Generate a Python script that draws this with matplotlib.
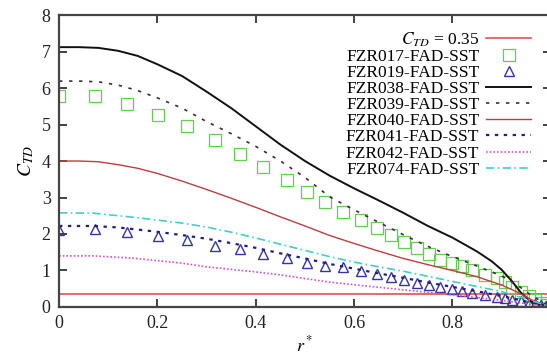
import matplotlib

matplotlib.use("Agg")
import matplotlib.pyplot as plt

plt.rcParams["font.family"] = ["Liberation Serif", "DejaVu Serif"]
plt.rcParams["mathtext.fontset"] = "stix"

# reference line
ctd_const = 0.35

# markers (FZR017 squares, FZR019 triangles) share the radial stations
r_pts = [0.0, 0.073, 0.138, 0.201, 0.26, 0.317, 0.368, 0.415, 0.463, 0.504, 0.541,
         0.577, 0.614, 0.646, 0.675, 0.701, 0.728, 0.752, 0.774, 0.799, 0.819,
         0.839, 0.866, 0.89, 0.907, 0.922, 0.94, 0.955, 0.968, 0.98, 0.99, 1.0]
fzr017 = [5.78, 5.78, 5.57, 5.27, 4.95, 4.57, 4.19, 3.84, 3.48, 3.15, 2.88,
          2.6, 2.38, 2.16, 1.97, 1.78, 1.62, 1.45, 1.29, 1.21, 1.12,
          1.01, 0.88, 0.79, 0.68, 0.55, 0.42, 0.3, 0.2, 0.12, 0.05, 0.0]
fzr019 = [2.11, 2.13, 2.06, 1.95, 1.84, 1.67, 1.58, 1.45, 1.33, 1.2, 1.12,
          1.09, 0.99, 0.9, 0.81, 0.74, 0.67, 0.6, 0.56, 0.49, 0.45,
          0.39, 0.33, 0.28, 0.24, 0.2, 0.16, 0.12, 0.08, 0.05, 0.02, 0.0]

# curves
r_038 = [0.0, 0.04, 0.08, 0.12, 0.16, 0.2, 0.25, 0.3, 0.35, 0.4, 0.45, 0.5, 0.55, 0.6,
         0.65, 0.7, 0.75, 0.8, 0.85, 0.88, 0.9, 0.92, 0.94, 0.96, 0.98, 1.0]
fzr038 = [7.12, 7.12, 7.1, 7.02, 6.88, 6.65, 6.33, 5.9, 5.45, 4.95, 4.45, 4.0, 3.6, 3.25,
          2.92, 2.58, 2.22, 1.9, 1.52, 1.25, 1.02, 0.72, 0.38, 0.15, 0.05, 0.0]

r_039 = [0.0, 0.04, 0.08, 0.12, 0.16, 0.2, 0.25, 0.3, 0.35, 0.4, 0.45, 0.5, 0.55, 0.6,
         0.65, 0.7, 0.75, 0.8, 0.85, 0.9, 0.93, 0.96, 1.0]
fzr039 = [6.19, 6.19, 6.17, 6.08, 5.93, 5.73, 5.45, 5.08, 4.75, 4.4, 4.0, 3.55, 3.02, 2.66,
          2.32, 1.98, 1.66, 1.38, 1.12, 0.85, 0.62, 0.32, 0.0]

r_040 = [0.0, 0.04, 0.08, 0.12, 0.16, 0.2, 0.25, 0.3, 0.35, 0.4, 0.45, 0.5, 0.55, 0.6,
         0.65, 0.7, 0.75, 0.8, 0.85, 0.9, 0.93, 0.96, 1.0]
fzr040 = [4.0, 4.0, 3.98, 3.9, 3.8, 3.66, 3.45, 3.22, 2.98, 2.73, 2.47, 2.22, 1.96, 1.74,
          1.53, 1.33, 1.16, 1.0, 0.83, 0.6, 0.42, 0.2, 0.0]

r_041 = [0.0, 0.07, 0.12, 0.2, 0.25, 0.3, 0.35, 0.4, 0.45, 0.5, 0.55, 0.6, 0.65, 0.7,
         0.75, 0.8, 0.85, 0.9, 0.95, 1.0]
fzr041 = [2.22, 2.22, 2.18, 2.06, 1.97, 1.87, 1.75, 1.62, 1.47, 1.33, 1.18, 1.05, 0.92, 0.8,
          0.67, 0.55, 0.43, 0.3, 0.15, 0.0]

r_042 = [0.0, 0.07, 0.15, 0.2, 0.25, 0.3, 0.35, 0.4, 0.45, 0.5, 0.55, 0.6, 0.65, 0.7,
         0.75, 0.8, 0.85, 0.9, 0.95, 1.0]
fzr042 = [1.4, 1.4, 1.34, 1.27, 1.2, 1.1, 1.03, 0.96, 0.88, 0.78, 0.68, 0.61, 0.54, 0.47,
          0.4, 0.33, 0.26, 0.18, 0.09, 0.0]

r_074 = [0.0, 0.07, 0.15, 0.2, 0.25, 0.3, 0.35, 0.4, 0.45, 0.5, 0.55, 0.6, 0.65, 0.7,
         0.75, 0.8, 0.85, 0.9, 0.95, 1.0]
fzr074 = [2.58, 2.57, 2.46, 2.38, 2.3, 2.19, 2.05, 1.89, 1.72, 1.55, 1.38, 1.23, 1.1, 0.98,
          0.84, 0.7, 0.56, 0.42, 0.22, 0.0]

fig = plt.figure(figsize=(5.47, 3.58), dpi=100)
ax = fig.add_axes([0.108, 0.1425, 0.899, 0.8155])

ax.axhline(ctd_const, color="#e05050", lw=1.2, label=r"$C_{TD}$ = 0.35")
ax.plot(r_pts, fzr017, ls="none", marker="s", ms=8, mfc="none", mec="#66cc55", mew=0.9,
        label="FZR017-FAD-SST")
ax.plot(r_pts, fzr019, ls="none", marker="^", ms=6.5, mfc="none", mec="#3535a0", mew=1.0,
        label="FZR019-FAD-SST")
ax.plot(r_038, fzr038, color="#111111", lw=1.4, label="FZR038-FAD-SST")
ax.plot(r_039, fzr039, color="#333333", lw=1.2, ls=(0, (2, 4)), label="FZR039-FAD-SST")
ax.plot(r_040, fzr040, color="#b84040", lw=1.0, label="FZR040-FAD-SST")
ax.plot(r_041, fzr041, color="#202080", lw=1.6, ls=(0, (1.5, 2.5)), label="FZR041-FAD-SST")
ax.plot(r_042, fzr042, color="#cc55cc", lw=1.2, ls=(0, (1, 1.2)), label="FZR042-FAD-SST")
ax.plot(r_074, fzr074, color="#44cccc", lw=1.2, ls=(0, (5, 2, 1, 2)), label="FZR074-FAD-SST")

ax.set_xlim(0, 1)
ax.set_ylim(0, 8)
ax.set_xticks([0, 0.2, 0.4, 0.6, 0.8, 1.0])
ax.set_xticklabels(["0", "0.2", "0.4", "0.6", "0.8", ""])
ax.set_yticks(range(0, 9))
ax.tick_params(direction="in", length=6, width=1.2, top=True, right=True,
               labelsize=13, colors="#222222", pad=6)
for s in ax.spines.values():
    s.set_linewidth(1.6)
    s.set_color("#444444")

ax.set_xlabel(r"$r^*$", fontsize=13, labelpad=2)
ax.set_ylabel(r"$C_{TD}$", fontsize=14, labelpad=4)

leg = ax.legend(loc="upper right", bbox_to_anchor=(0.985, 0.99), frameon=False,
                markerfirst=False, fontsize=12.5, labelspacing=0.0, handlelength=2.6,
                handletextpad=0.4, borderpad=0.2)
for t in leg.get_texts():
    t.set_ha("right")
leg._legend_box.align = "right"

fig.savefig("out.png", dpi=100)
